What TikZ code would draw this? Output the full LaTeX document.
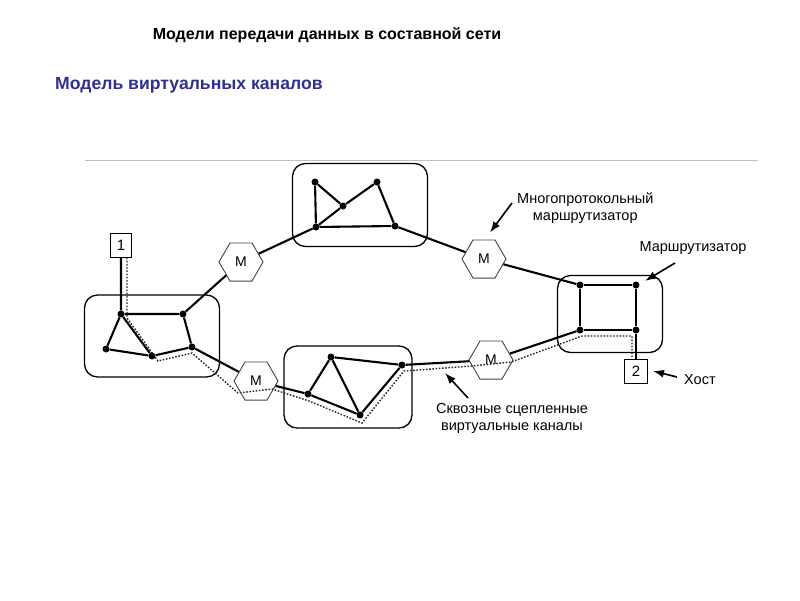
\documentclass[tikz,border=0pt]{standalone}
\usepackage{fontspec}
\setmainfont{Liberation Sans}
\usepackage{tikz}
\usetikzlibrary{shapes,arrows,arrows.meta,positioning}
\definecolor{slideblue}{RGB}{48,48,140}
\tikzstyle{link} = [line width=2.1pt]
\tikzstyle{vc} = [line width=1.4pt, dash pattern=on 1.6pt off 1.6pt, black!85]
\tikzstyle{dot} = [circle, fill=black, inner sep=0pt, minimum size=7pt]
\tikzstyle{net} = [draw, rounded corners=13pt, line width=1.3pt, inner sep=0pt]
\tikzstyle{mrouter} = [draw, black!75, text=black, line width=0.9pt, regular polygon, regular polygon sides=6, minimum size=44pt, inner sep=0pt, font=\fontsize{14}{14}\selectfont]
\tikzstyle{host} = [draw, line width=1pt, inner sep=0pt, minimum width=21pt, minimum height=24pt, font=\fontsize{15}{15}\selectfont]
\tikzstyle{pointer} = [line width=1.6pt, -{Latex[length=11pt,width=8pt]}]
\tikzstyle{caption} = [align=center, inner sep=0pt, font=\fontsize{14.5}{17}\selectfont]
\newcommand{\vshift}[3]{([shift={(#1,#2)}]#3)}

\begin{document}
\begin{tikzpicture}[x=1pt, y=-1pt]
		\useasboundingbox (0,0) rectangle (800,600);
		\node[font=\bfseries\fontsize{16}{18}\selectfont] (title) at (327,35) {Модели передачи данных в составной сети};
		\node[anchor=west, inner sep=0pt, text=slideblue, font=\bfseries\fontsize{17.6}{20}\selectfont] (subtitle) at (55,85) {Модель виртуальных каналов};
		\draw[black!25, line width=0.8pt] (85,160) -- (758,160);
		% subnetworks
		\node[net, minimum width=135pt, minimum height=83pt] (tnet) at (360,205) {};
		\node[net, minimum width=135pt, minimum height=82pt] (lnet) at (152,336) {};
		\node[net, minimum width=128pt, minimum height=82pt] (bnet) at (348,387) {};
		\node[net, minimum width=105pt, minimum height=77pt] (rnet) at (610,314) {};
		\foreach \name/\x/\y in {t1/315/182, t2/377/182, t3/343/206, t4/316/227, t5/395/226,
				l1/121/314, l2/183/314, l3/106/349, l4/152/356, l5/192/347,
				b1/331/357, b2/402/365, b3/308/394, b4/360/415,
				r1/580/285, r2/636/285, r3/580/330, r4/636/330}
			\node[dot] (\name) at (\x,\y) {};
		\node[mrouter] (m1) at (241,262) {M};
		\node[mrouter] (m2) at (484,259) {M};
		\node[mrouter] (m3) at (256,381) {M};
		\node[mrouter] (m4) at (491,360) {M};
		\node[host] (host1) at (121,245) {1};
		\node[host, minimum width=23pt] (host2) at (636,371) {2};
		% links
		\draw[link] (host1) -- (l1) -- (l2) -- (l5) -- (l4) -- (l3) -- (l1) -- (l4);
		\draw[link] (l2) -- (m1) -- (t4);
		\draw[link] (t4) -- (t1) -- (t3) (t4) -- (t3) -- (t2) -- (t5) -- (t4);
		\draw[link] (t5) -- (m2) -- (r1);
		\draw[link] (r1) -- (r2) -- (r4) -- (r3) -- (r1) (r4) -- (host2);
		\draw[link] (l5) -- (m3) -- (b3);
		\draw[link] (b3) -- (b1) -- (b2) -- (b4) -- (b3) (b1) -- (b4);
		\draw[link] (b2) -- (m4) -- (r3);
		% virtual channel
		\draw[vc] ([xshift=6pt]host1.south) -- \vshift{6}{4}{l1.center} -- \vshift{6}{5}{l4.center} -- \vshift{0}{6}{l5.center}
			-- \vshift{-18}{12}{m3.center} -- \vshift{16}{8}{m3.center} -- \vshift{1}{7}{b3.center} -- \vshift{2}{8}{b4.center}
			-- \vshift{2}{6}{b2.center} -- \vshift{-19}{6}{m4.center} -- \vshift{20}{2}{m4.center} -- \vshift{2}{6}{r3.center}
			-- \vshift{-4}{6}{r4.center} -- ([xshift=-4pt]host2.north);
		% labels
		\node[caption, anchor=west] (lblmulti) at (517,208) {Многопротокольный\\маршрутизатор};
		\node[caption] (lblrouter) at (693,248) {Маршрутизатор};
		\node[caption, anchor=west] (lblhost) at (684,380) {Хост};
		\node[caption] (lblchan) at (512,418) {Сквозные сцепленные\\виртуальные каналы};
		\draw[pointer] \vshift{-5}{-5}{lblmulti.west} -- \vshift{6}{-7}{m2.north};
		\draw[pointer] \vshift{-18}{15}{lblrouter.center} -- \vshift{-18}{6}{rnet.north east};
		\draw[pointer] \vshift{-7}{-3}{lblhost.west} -- ([xshift=5pt]host2.east);
		\draw[pointer] \vshift{-44}{-20}{lblchan.center} -- \vshift{43}{8}{b2.center};
	\end{tikzpicture}
\end{document}
